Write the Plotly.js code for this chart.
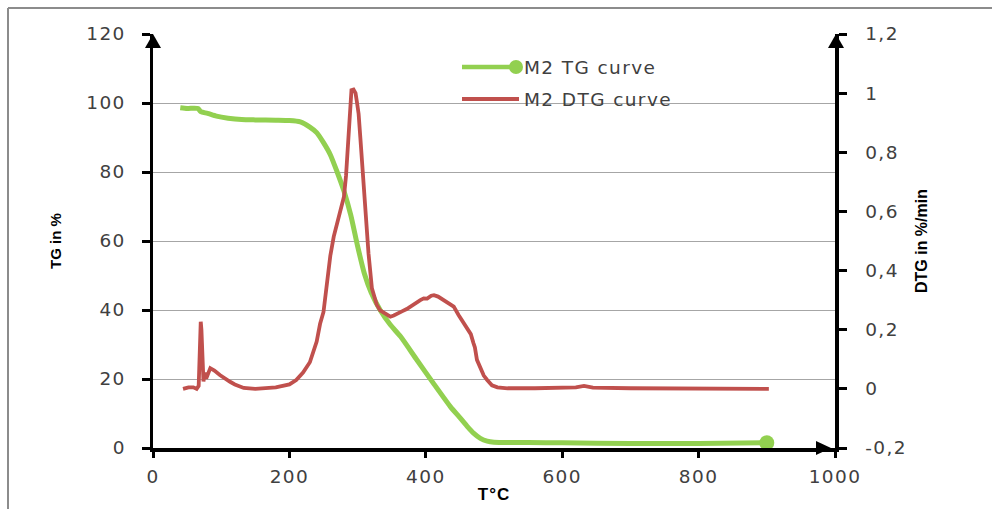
<!DOCTYPE html>
<html>
<head>
<meta charset="utf-8">
<script src="https://cdn.plot.ly/plotly-3.0.1.min.js"></script>
<style>
html,body{margin:0;padding:0;background:#fff;}
#chart{width:992px;height:509px;}
#chart .xtick text, #chart .ytick text, #chart .y2tick text, #chart .annotation-text{letter-spacing:1.4px;}
#chart .xtitle{letter-spacing:1px;}
</style>
</head>
<body>
<div id="chart"></div>
<script>
// ---- data ----
const tgTemp = [40,50,60,66,70,80,93,110,130,150,180,200,216,230,240,250,260,270,280,290,300,310,320,333,348,363,387,411,436,450,461,470,480,490,500,550,600,700,800,900];
const tgValue = [98.6,98.4,98.5,98.4,97.5,97.0,96.2,95.6,95.2,95.1,95.0,94.9,94.5,93.0,91.4,88.5,85.0,80.0,74.5,67.5,58.5,50.5,45.0,40.0,35.7,32.3,25.5,18.8,12.0,8.8,6.2,4.3,2.8,2.0,1.7,1.6,1.5,1.3,1.3,1.5];

const dtgTemp = [44,52,59,64,67,69,70,71,73,74,76,78,84,90,98,105,113,120,133,150,180,200,210,220,230,240,245,250,255,260,265,270,275,280,283,287,289,291,294,297,299,301.5,304,306.4,311,316,321,328,333,338,343,348,353,358,365,372,377,385,392,397,402,408,412,418,426,433,441,448,456,462,466,470,472,475,480,485,490,497,505,520,560,600,620,632,645,700,800,903];
const dtgValue = [0.0,0.005,0.005,0.0,0.01,0.2,0.227,0.2,0.03,0.025,0.055,0.035,0.07,0.062,0.047,0.035,0.024,0.015,0.003,0.0,0.005,0.015,0.03,0.055,0.09,0.16,0.22,0.26,0.37,0.45,0.515,0.56,0.594,0.65,0.72,0.875,0.98,1.01,1.012,1.0,0.97,0.93,0.85,0.763,0.594,0.458,0.34,0.285,0.265,0.258,0.25,0.244,0.248,0.255,0.262,0.27,0.278,0.29,0.3,0.306,0.305,0.315,0.317,0.312,0.3,0.29,0.278,0.25,0.222,0.2,0.185,0.154,0.14,0.098,0.07,0.045,0.03,0.012,0.005,0.002,0.002,0.003,0.005,0.01,0.004,0.002,0.002,0.0];

const xTicks = [0,200,400,600,800,1000];
const yTicks = [0,20,40,60,80,100,120];
const y2Ticks = [-0.2,0,0.2,0.4,0.6,0.8,1.0,1.2];
const y2TickText = ['-0,2','0','0,2','0,4','0,6','0,8','1','1,2'];
const seriesNames = ['M2 TG curve','M2 DTG curve'];

// ---- styling / layout ----
const W = 992, H = 509;
const M = {l:153, r:157, t:34, b:61};
const PW = W - M.l - M.r, PH = H - M.t - M.b;
const px = v => (v - M.l) / PW;           // pixel x -> paper
const py = v => (H - M.b - v) / PH;       // pixel y -> paper
const GREEN = '#92d050', RED = '#c0504d';
const tickFont = {family:'DejaVu Sans, Verdana, sans-serif', size:18.5, color:'#404040'};
const titleFam = 'Liberation Sans, Arial, sans-serif';

const traces = [
  {x: tgTemp, y: tgValue, mode:'lines', name: seriesNames[0], yaxis:'y',
   line:{color:GREEN, width:5, shape:'spline', smoothing:0.6}, showlegend:false, hoverinfo:'skip'},
  {x: [tgTemp[tgTemp.length-1]], y: [tgValue[tgValue.length-1]], mode:'markers', yaxis:'y',
   marker:{color:GREEN, size:15}, showlegend:false, hoverinfo:'skip'},
  {x: dtgTemp, y: dtgValue, mode:'lines', name: seriesNames[1], yaxis:'y2',
   line:{color:RED, width:3.8}, showlegend:false, hoverinfo:'skip'}
];

function tri(pts){ return 'M' + pts.map(p => px(p[0]) + ',' + py(p[1])).join(' L') + ' Z'; }

const shapes = [
  // outer frame (top & left)
  {type:'line', xref:'paper', yref:'paper', x0:px(8), y0:py(8), x1:px(992), y1:py(8), line:{color:'#8c8c8c', width:2}},
  {type:'line', xref:'paper', yref:'paper', x0:px(8), y0:py(8), x1:px(8), y1:py(509), line:{color:'#8c8c8c', width:2}},
  // arrow heads
  {type:'path', xref:'paper', yref:'paper', path: tri([[145,48],[153,34],[161,48]]), fillcolor:'#000', line:{width:0}},
  {type:'path', xref:'paper', yref:'paper', path: tri([[828,48],[836,34],[844,48]]), fillcolor:'#000', line:{width:0}},
  {type:'path', xref:'paper', yref:'paper', path: tri([[816,441],[831,448],[816,455]]), fillcolor:'#000', line:{width:0}},
  // legend symbols
  {type:'line', xref:'paper', yref:'paper', x0:px(462), y0:py(67), x1:px(517), y1:py(67), line:{color:GREEN, width:4.5}},
  {type:'circle', xref:'paper', yref:'paper', xsizemode:'pixel', ysizemode:'pixel', xanchor:px(516), yanchor:py(67),
   x0:-7, x1:7, y0:-7, y1:7, fillcolor:GREEN, line:{width:0}},
  {type:'line', xref:'paper', yref:'paper', x0:px(462), y0:py(99), x1:px(519), y1:py(99), line:{color:RED, width:3.8}}
];

const annotations = [
  {xref:'paper', yref:'paper', x:px(522), y:py(67), xanchor:'left', yanchor:'middle', align:'left', showarrow:false, text:seriesNames[0], font:tickFont},
  {xref:'paper', yref:'paper', x:px(522), y:py(99), xanchor:'left', yanchor:'middle', align:'left', showarrow:false, text:seriesNames[1], font:tickFont}
];

const layout = {
  width:W, height:H, margin:M, paper_bgcolor:'#fff', plot_bgcolor:'#fff', showlegend:false,
  xaxis:{range:[0,1000], tickvals:xTicks, showgrid:false, zeroline:false, showline:true, linecolor:'#000', linewidth:3.5,
         ticks:'outside', ticklen:6, tickwidth:3, tickcolor:'#000', tickfont:tickFont, ticklabelstandoff:3,
         title:{text:'T°C', font:{family:titleFam, size:17, color:'#000', weight:'bold'}, standoff:3}},
  yaxis:{range:[0,120], tickvals:yTicks, showgrid:true, gridcolor:'#a6a6a6', gridwidth:1, zeroline:false,
         showline:true, linecolor:'#000', linewidth:3.5, ticks:'outside', ticklen:8, tickwidth:3, tickcolor:'#000',
         tickfont:tickFont, ticklabelstandoff:12,
         title:{text:'TG in %', font:{family:titleFam, size:15, color:'#000', weight:'bold'}, standoff:26}},
  yaxis2:{range:[-0.2,1.2], tickvals:y2Ticks, ticktext:y2TickText, overlaying:'y', side:'right', showgrid:false, zeroline:false,
          showline:true, linecolor:'#000', linewidth:3.5, ticks:'outside', ticklen:8, tickwidth:3, tickcolor:'#000',
          tickfont:tickFont, ticklabelstandoff:15,
          title:{text:'DTG in %/min', font:{family:titleFam, size:16, color:'#000', weight:'bold'}, standoff:16}},
  shapes:shapes, annotations:annotations
};

Plotly.newPlot('chart', traces, layout, {staticPlot:true, displayModeBar:false});
</script>
</body>
</html>
